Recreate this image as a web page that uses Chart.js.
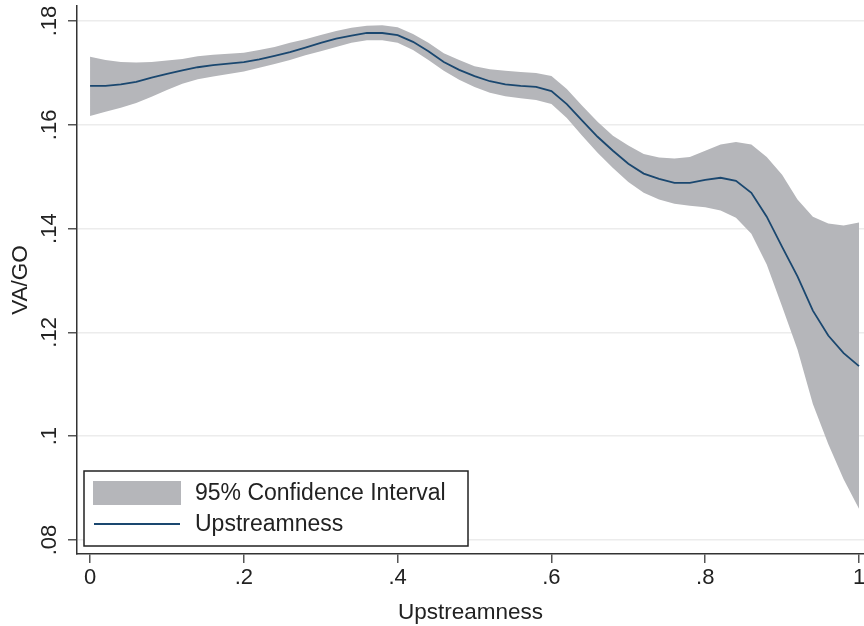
<!DOCTYPE html>
<html>
<head>
<meta charset="utf-8">
<script src="https://cdn.jsdelivr.net/npm/chart.js@4.4.1/dist/chart.umd.min.js"></script>
<style>
  body { margin: 0; background: #fff; }
  #wrap { width: 864px; height: 626px; }
</style>
</head>
<body>
<div id="wrap"><canvas id="myChart"></canvas></div>
<script>
// upstreamness grid (x) and fitted VA/GO with 95% band
const upstream = [0, 0.02, 0.04, 0.06, 0.08, 0.1, 0.12, 0.14, 0.16, 0.18,
  0.2, 0.22, 0.24, 0.26, 0.28, 0.3, 0.32, 0.34, 0.36, 0.38,
  0.4, 0.42, 0.44, 0.46, 0.48, 0.5, 0.52, 0.54, 0.56, 0.58,
  0.6, 0.62, 0.64, 0.66, 0.68, 0.7, 0.72, 0.74, 0.76, 0.78,
  0.8, 0.82, 0.84, 0.86, 0.88, 0.9, 0.92, 0.94, 0.96, 0.98, 1];

const fitted = [.1675, .1675, .1678, .1683, .1691, .1698, .1705, .1711, .1715, .1718,
  .1721, .1726, .1733, .1740, .1749, .1758, .1766, .1772, .1777, .1777,
  .1773, .1760, .1742, .1721, .1706, .1694, .1684, .1678, .1675, .1673,
  .1665, .1640, .1608, .1577, .1550, .1525, .1506, .1496, .1488, .1488,
  .1494, .1498, .1492, .1469, .1423, .1365, .1308, .1242, .1194, .1160, .1135];

const ciUpper = [.1731, .1725, .1721, .1720, .1721, .1724, .1727, .1732, .1735, .1737,
  .1739, .1744, .1750, .1758, .1765, .1773, .1781, .1787, .1791, .1792,
  .1788, .1775, .1758, .1738, .1725, .1713, .1707, .1704, .1702, .1700,
  .1694, .1669, .1637, .1606, .1579, .1560, .1544, .1537, .1535, .1538,
  .1550, .1562, .1567, .1562, .1538, .1504, .1456, .1423, .1410, .1406, .1412];

const ciLower = [.1617, .1625, .1633, .1642, .1654, .1667, .1679, .1688, .1693, .1698,
  .1703, .1710, .1717, .1725, .1734, .1742, .1750, .1758, .1763, .1763,
  .1758, .1744, .1725, .1704, .1687, .1673, .1662, .1655, .1651, .1648,
  .1640, .1613, .1579, .1546, .1517, .1490, .1469, .1456, .1448, .1444,
  .1441, .1435, .1421, .1390, .1331, .1250, .1167, .1062, .0985, .0917, .0860];

const xTicks = [0, 0.2, 0.4, 0.6, 0.8, 1];
const yTicks = [0.08, 0.10, 0.12, 0.14, 0.16, 0.18];

const bandColor = '#b5b6ba';
const lineColor = '#1a476f';
const textColor = '#222';
const fontFam = '"Liberation Sans", Arial, sans-serif';

// stata style: .2 instead of 0.2
const fmt = (v) => {
  let s = String(Math.round(v * 100) / 100);
  return s.startsWith('0.') ? s.slice(1) : s;
};

const toPts = (ys) => upstream.map((x, i) => ({ x: x, y: ys[i] }));

const legendBox = {
  id: 'legendBox',
  afterDraw(chart) {
    const ctx = chart.ctx;
    const a = chart.chartArea;
    const left = a.left + 7, top = a.bottom - 83, w = 384, h = 75;
    ctx.save();
    ctx.fillStyle = '#fff';
    ctx.fillRect(left, top, w, h);
    ctx.strokeStyle = '#222';
    ctx.lineWidth = 1.5;
    ctx.strokeRect(left, top, w, h);
    ctx.fillStyle = bandColor;
    ctx.fillRect(left + 9, top + 10, 88, 24);
    ctx.strokeStyle = lineColor;
    ctx.lineWidth = 2;
    ctx.beginPath();
    ctx.moveTo(left + 10, top + 53);
    ctx.lineTo(left + 96, top + 53);
    ctx.stroke();
    ctx.fillStyle = textColor;
    ctx.font = '23px ' + fontFam;
    ctx.textBaseline = 'middle';
    ctx.textAlign = 'left';
    ctx.fillText('95% Confidence Interval', left + 111, top + 23);
    ctx.fillText('Upstreamness', left + 111, top + 54);
    ctx.restore();
  }
};

const grafica = new Chart(document.getElementById('myChart'), {
  type: 'line',
  data: {
    datasets: [
      {
        label: 'Upstreamness',
        data: toPts(fitted),
        borderColor: lineColor,
        borderWidth: 1.8,
        pointRadius: 0,
        tension: 0,
        fill: false
      },
      {
        label: '95% Confidence Interval',
        data: toPts(ciUpper),
        borderColor: 'transparent',
        borderWidth: 0,
        backgroundColor: bandColor,
        pointRadius: 0,
        tension: 0,
        fill: '+1'
      },
      {
        label: 'lower',
        data: toPts(ciLower),
        borderColor: 'transparent',
        borderWidth: 0,
        pointRadius: 0,
        tension: 0,
        fill: false
      }
    ]
  },
  options: {
    responsive: true,
    maintainAspectRatio: false,
    animation: false,
    layout: { padding: { top: 6, right: 0, left: 0, bottom: 0 } },
    plugins: {
      legend: { display: false },
      tooltip: { enabled: false },
      filler: { drawTime: 'beforeDatasetsDraw' }
    },
    scales: {
      x: {
        type: 'linear',
        min: -0.017,
        max: 1.0065,
        afterBuildTicks: (s) => { s.ticks = xTicks.map(v => ({ value: v })); },
        afterFit: (s) => { s.height = 72; s.paddingLeft = 0; s.paddingRight = 0; },
        border: { color: '#333', width: 1.5 },
        grid: { drawOnChartArea: false, tickLength: 9, tickColor: '#555', lineWidth: 1.5 },
        ticks: {
          callback: (v) => fmt(v),
          color: textColor,
          font: { family: fontFam, size: 22 },
          padding: 2,
          maxRotation: 0,
          autoSkip: false
        },
        title: {
          display: true,
          text: 'Upstreamness',
          color: textColor,
          font: { family: fontFam, size: 22.5 },
          padding: { top: 0, bottom: 0 }
        }
      },
      y: {
        min: 0.0773,
        max: 0.1829,
        afterBuildTicks: (s) => { s.ticks = yTicks.map(v => ({ value: v })); },
        afterFit: (s) => { s.width = 77; s.paddingTop = 0; s.paddingBottom = 0; },
        border: { color: '#333', width: 1.5 },
        grid: { color: '#ececec', lineWidth: 1.5, tickLength: 9, tickColor: '#555' },
        ticks: {
          callback: (v) => fmt(v),
          color: textColor,
          font: { family: fontFam, size: 22 },
          padding: 2.5,
          minRotation: 90,
          maxRotation: 90,
          crossAlign: 'center',
          autoSkip: false
        },
        title: {
          display: true,
          text: 'VA/GO',
          color: textColor,
          font: { family: fontFam, size: 22.5 },
          padding: { top: 7, bottom: 0 }
        }
      }
    }
  },
  plugins: [legendBox]
});
</script>
</body>
</html>
